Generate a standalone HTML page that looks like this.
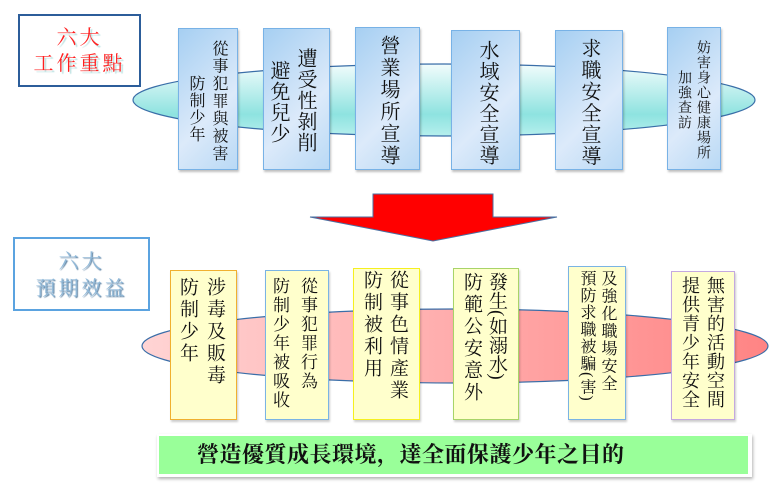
<!DOCTYPE html>
<html><head><meta charset="utf-8"><style>
body{margin:0;width:778px;height:490px;background:#fff;position:relative;overflow:hidden;font-family:"Liberation Serif","Noto Serif CJK SC","Noto Serif CJK TC",serif;}
.a{position:absolute;box-sizing:border-box;}
.tb{background:linear-gradient(135deg,#a6cff2,#dceafa 60%,#b9d9f5);border:1.5px solid #78b2e6;box-shadow:1px 2px 2px rgba(0,0,0,.25);}
.yb{background:#ffffcc;border:1.5px solid;box-shadow:1px 2px 2px rgba(0,0,0,.2);}
.c{position:absolute;writing-mode:vertical-rl;line-height:1;color:#111;white-space:nowrap;}
</style></head><body>
<svg class="a" style="left:0;top:0" width="778" height="490">
<defs>
<linearGradient id="g1" x1="0" y1="0" x2="0" y2="1"><stop offset="0" stop-color="#f2fcfc"/><stop offset="0.7" stop-color="#8ee3e0"/><stop offset="1" stop-color="#b6efed"/></linearGradient>
<linearGradient id="g2" x1="0" y1="0" x2="1" y2="0"><stop offset="0" stop-color="#ffd4d4"/><stop offset="1" stop-color="#ff8484"/></linearGradient>
</defs>
<ellipse cx="444" cy="100" rx="311" ry="36" fill="url(#g1)" stroke="#3a6ea8" stroke-width="1.2"/>
<ellipse cx="455" cy="346" rx="313" ry="37" fill="url(#g2)" stroke="#3a6ea8" stroke-width="1.2"/>
<polygon points="373,194 493,194 493,217 557,217 433,241 310,217 373,217" fill="#ff0000" stroke="#4a6fa0" stroke-width="1"/>
</svg>

<div class="a" style="left:18px;top:14px;width:123px;height:73px;border:2px solid #2c5d9a;"></div>
<div class="a" style="left:18px;top:25px;width:123px;text-align:center;color:#ff2020;font-size:20px;line-height:26px;letter-spacing:3px;text-shadow:2px 2px 1px #b8e0e0;">六大<br>工作重點</div>

<div class="a" style="left:13px;top:237px;width:137px;height:74px;border:2px solid #5ba3e0;"></div>
<div class="a" style="left:13px;top:249px;width:137px;text-align:center;color:#8fb8d8;font-size:20px;line-height:27px;letter-spacing:3px;text-shadow:1px 1px 1px #5a7fa0;">六大<br>預期效益</div>

<div class="a tb" style="left:178px;top:28px;width:60px;height:142px;"></div>
<div class="c" style="left:210px;top:40px;font-size:16px;letter-spacing:1.5px;">從事犯罪與被害</div>
<div class="c" style="left:187px;top:75px;font-size:16px;letter-spacing:1px;">防制少年</div>

<div class="a tb" style="left:263px;top:28px;width:67px;height:142px;"></div>
<div class="c" style="left:295px;top:48px;font-size:20px;letter-spacing:1px;">遭受性剝削</div>
<div class="c" style="left:268px;top:60px;font-size:20px;letter-spacing:1px;">避免兒少</div>

<div class="a tb" style="left:355px;top:27px;width:65px;height:143px;"></div>
<div class="c" style="left:378px;top:35px;font-size:20px;letter-spacing:2px;">營業場所宣導</div>

<div class="a tb" style="left:451px;top:30px;width:69px;height:140px;"></div>
<div class="c" style="left:477px;top:40px;font-size:20px;letter-spacing:1px;">水域安全宣導</div>

<div class="a tb" style="left:555px;top:30px;width:68px;height:140px;"></div>
<div class="c" style="left:579px;top:38px;font-size:20px;letter-spacing:1.5px;">求職安全宣導</div>

<div class="a tb" style="left:667px;top:27px;width:54px;height:143px;"></div>
<div class="c" style="left:695px;top:40px;font-size:14px;letter-spacing:1px;">妨害身心健康場所</div>
<div class="c" style="left:676px;top:70px;font-size:14px;letter-spacing:1px;">加強查訪</div>

<div class="a yb" style="left:170px;top:270px;width:67px;height:150px;border-color:#f0b030;"></div>
<div class="c" style="left:205px;top:277px;font-size:19px;letter-spacing:3px;">涉毒及販毒</div>
<div class="c" style="left:178px;top:277px;font-size:19px;letter-spacing:3px;">防制少年</div>

<div class="a yb" style="left:265px;top:270px;width:64px;height:150px;border-color:#7ab4e4;"></div>
<div class="c" style="left:299px;top:277px;font-size:17px;letter-spacing:2px;">從事犯罪行為</div>
<div class="c" style="left:271px;top:277px;font-size:17px;letter-spacing:2px;">防制少年被吸收</div>

<div class="a yb" style="left:353px;top:268px;width:67px;height:152px;border-color:#f5f020;"></div>
<div class="c" style="left:388px;top:270px;font-size:19px;letter-spacing:3px;">從事色情產業</div>
<div class="c" style="left:362px;top:270px;font-size:19px;letter-spacing:3px;">防制被利用</div>

<div class="a yb" style="left:453px;top:268px;width:66px;height:152px;border-color:#a8d468;"></div>
<div class="c" style="left:487px;top:272px;font-size:19px;letter-spacing:0px;">發生(如溺水)</div>
<div class="c" style="left:462px;top:272px;font-size:19px;letter-spacing:3px;">防範公安意外</div>

<div class="a yb" style="left:568px;top:266px;width:58px;height:154px;border-color:#7ab4e4;"></div>
<div class="c" style="left:599px;top:270px;font-size:16px;letter-spacing:1.5px;">及強化職場安全</div>
<div class="c" style="left:578px;top:270px;font-size:16px;letter-spacing:1px;">預防求職被騙(害)</div>

<div class="a yb" style="left:671px;top:271px;width:64px;height:149px;border-color:#c4a8e0;"></div>
<div class="c" style="left:706px;top:276px;font-size:18px;letter-spacing:1px;">無害的活動空間</div>
<div class="c" style="left:681px;top:276px;font-size:18px;letter-spacing:1px;">提供青少年安全</div>

<div class="a" style="left:157px;top:434px;width:595px;height:43px;background:#fff;box-shadow:1px 2px 3px rgba(0,0,0,.3);"></div>
<div class="a" style="left:159px;top:436px;width:589px;height:38px;background:#99ff99;"></div>
<div class="a" style="left:197px;top:442px;width:500px;white-space:nowrap;font-size:22px;line-height:26px;font-weight:bold;letter-spacing:0.5px;color:#111;">營造優質成長環境，達全面保護少年之目的</div>
</body></html>
